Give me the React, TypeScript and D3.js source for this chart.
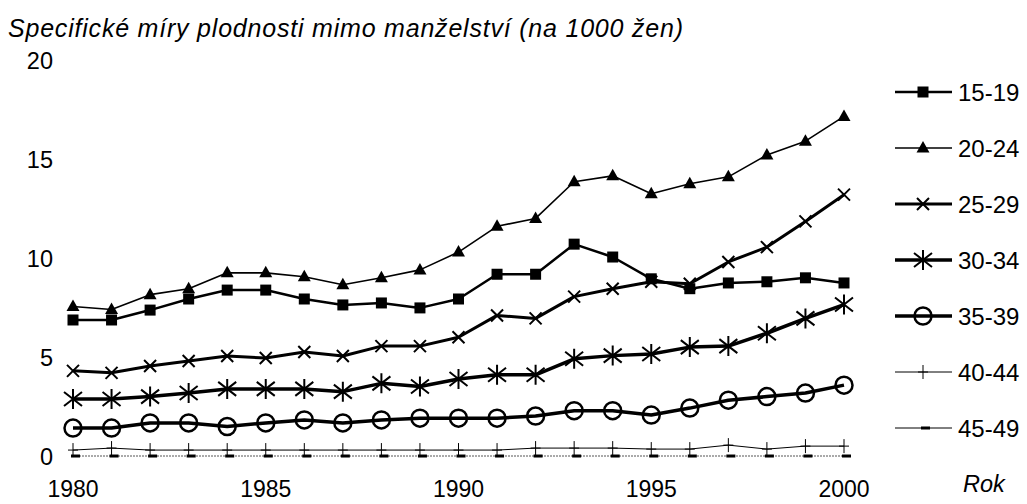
import * as d3 from 'd3';

const width = 1027;
const height = 504;

const years = d3.range(1980, 2001);
const yTicks = [0, 5, 10, 15, 20];
const xTicks = [1980, 1985, 1990, 1995, 2000];
const ageGroups = ["15-19", "20-24", "25-29", "30-34", "35-39", "40-44", "45-49"];

const s1519 = [6.92, 6.92, 7.42, 7.98, 8.43, 8.43, 7.98, 7.68, 7.78, 7.53, 7.98, 9.23, 9.23, 10.75, 10.1, 9.0, 8.5, 8.79, 8.85, 9.05, 8.79];
const s2024 = [7.6, 7.45, 8.2, 8.5, 9.3, 9.3, 9.1, 8.7, 9.05, 9.45, 10.35, 11.65, 12.05, 13.9, 14.2, 13.3, 13.8, 14.15, 15.25, 15.95, 17.2];
const s2529 = [4.35, 4.25, 4.6, 4.85, 5.1, 5.0, 5.3, 5.1, 5.6, 5.6, 6.05, 7.15, 7.0, 8.1, 8.5, 8.85, 8.75, 9.85, 10.6, 11.9, 13.25];
const s3034 = [2.93, 2.93, 3.05, 3.23, 3.44, 3.44, 3.44, 3.3, 3.72, 3.56, 3.94, 4.15, 4.15, 4.96, 5.12, 5.2, 5.55, 5.6, 6.25, 7.0, 7.7];
const s3539 = [1.46, 1.46, 1.72, 1.72, 1.54, 1.72, 1.87, 1.72, 1.87, 1.96, 1.96, 1.96, 2.07, 2.34, 2.34, 2.12, 2.47, 2.87, 3.05, 3.23, 3.63];
const s4044 = [0.35, 0.45, 0.35, 0.35, 0.35, 0.35, 0.35, 0.35, 0.35, 0.35, 0.35, 0.35, 0.45, 0.45, 0.45, 0.4, 0.4, 0.6, 0.4, 0.55, 0.55];
const s4549 = [0.05, 0.05, 0.05, 0.05, 0.05, 0.05, 0.05, 0.05, 0.05, 0.05, 0.05, 0.05, 0.05, 0.05, 0.05, 0.05, 0.05, 0.05, 0.05, 0.05, 0.05];

const seriesValues = [s1519, s2024, s2529, s3034, s3539, s4044, s4549];
const lineWidths = [2.5, 1.6, 3, 3.5, 3.5, 1, 1];
const markers = ["square", "triangle", "cross", "asterisk", "circle", "plus", "dash"];

const font = "'Liberation Sans', Arial, Helvetica, sans-serif";

const x = d3.scaleLinear([1980, 2000], [73, 844]);
const y = d3.scaleLinear([0, 20], [457, 61]);

const Marker = ({ kind, cx, cy }: { kind: string; cx: number; cy: number }) => {
    switch (kind) {
        case "square":
            return <rect x={cx - 5.5} y={cy - 5.5} width={11} height={11} fill="black" />;
        case "triangle":
            return <path d={`M${cx},${cy - 7}L${cx + 6.5},${cy + 4.5}L${cx - 6.5},${cy + 4.5}Z`} fill="black" />;
        case "cross":
            return <path d={`M${cx - 6},${cy - 6}L${cx + 6},${cy + 6}M${cx - 6},${cy + 6}L${cx + 6},${cy - 6}`} stroke="black" strokeWidth={2} />;
        case "asterisk":
            return <path d={`M${cx},${cy - 10}L${cx},${cy + 10}M${cx - 9},${cy - 7}L${cx + 9},${cy + 7}M${cx - 9},${cy + 7}L${cx + 9},${cy - 7}`} stroke="black" strokeWidth={2} />;
        case "circle":
            return <circle cx={cx} cy={cy} r={8.5} fill="none" stroke="black" strokeWidth={2.5} />;
        case "plus":
            return <path d={`M${cx},${cy - 7}L${cx},${cy + 7}M${cx - 5},${cy}L${cx + 5},${cy}`} stroke="black" strokeWidth={1} />;
        case "dash":
            return <rect x={cx - 2} y={cy - 1.5} width={9} height={3} fill="black" />;
    }
    return null;
};

const App = () => {
    const line = d3.line<number>((d, i) => x(years[i]), (d) => y(d));
    const legendY = d3.scalePoint(ageGroups, [92, 428]);
    return (
        <svg width={width} height={height} style={{ position: "absolute", left: 0, top: 0, background: "white" }} fontFamily={font}>
            <text x={8} y={37} fontSize={25} fontStyle="italic" textLength={675} lengthAdjust="spacing">Specifické míry plodnosti mimo manželství (na 1000 žen)</text>

            {yTicks.map((t) => (
                <text key={t} x={53} y={y(t)} dy="0.36em" textAnchor="end" fontSize={23.5}>{t}</text>
            ))}
            {xTicks.map((t) => (
                <text key={t} x={x(t)} y={497} textAnchor="middle" fontSize={23}>{t}</text>
            ))}
            <text x={963} y={492} fontSize={23.5} fontStyle="italic">Rok</text>

            {seriesValues.map((vals, si) => (
                <g key={ageGroups[si]}>
                    <path
                        d={line(vals) as string}
                        fill="none"
                        stroke={si === 6 ? "#555" : "black"}
                        strokeWidth={lineWidths[si]}
                        strokeDasharray={si === 6 ? "2,1" : undefined}
                        strokeLinejoin="round"
                    />
                    {vals.map((v, i) => (
                        <Marker key={i} kind={markers[si]} cx={x(years[i])} cy={y(v)} />
                    ))}
                </g>
            ))}

            {ageGroups.map((g, si) => {
                const ly = legendY(g) as number;
                return (
                    <g key={g}>
                        <line x1={895} x2={952} y1={ly} y2={ly} stroke="black" strokeWidth={lineWidths[si]} />
                        <Marker kind={markers[si]} cx={923} cy={ly} />
                        <text x={958} y={ly} dy="0.36em" fontSize={24}>{g}</text>
                    </g>
                );
            })}
        </svg>
    );
};

export default App;
